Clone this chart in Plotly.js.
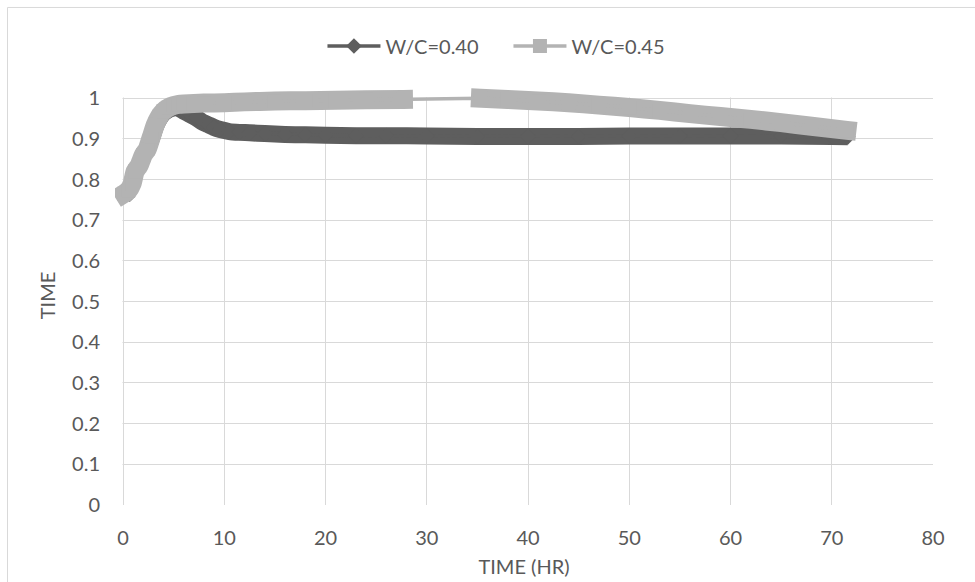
<!DOCTYPE html>
<html><head><meta charset="utf-8">
<script src="https://cdn.plot.ly/plotly-3.0.1.min.js"></script>
<style>
html,body{margin:0;padding:0;overflow:hidden;background:#fff}
#chart{width:975px;height:582px}
.scatterlayer .traceband45 path.js-line{stroke-linecap:square}
.scatterlayer path.js-line{stroke-linejoin:round}
</style></head><body><div id="chart"></div>
<script>
// ---- data ----
const seriesNames = ['W/C=0.40', 'W/C=0.45'];

const hours40 = [0.1, 0.5, 0.9, 1.2, 1.6, 2.0, 2.4, 2.8, 3.2, 3.6, 4.0, 4.5, 5.0, 5.5, 6.0, 6.6, 7.2, 7.8, 8.4, 9.0, 9.6, 10.5, 11.5, 12.5, 14, 16, 18, 20, 23, 26, 30, 35, 40, 45, 50, 55, 60, 65, 70, 71.6];
const wc40 =   [0.76, 0.77, 0.79, 0.82, 0.835, 0.86, 0.875, 0.90, 0.93, 0.95, 0.963, 0.972, 0.976, 0.975, 0.968, 0.96, 0.952, 0.942, 0.935, 0.928, 0.923, 0.918, 0.916, 0.915, 0.913, 0.911, 0.910, 0.909, 0.908, 0.908, 0.907, 0.906, 0.906, 0.906, 0.907, 0.907, 0.907, 0.907, 0.906, 0.905];

// W/C=0.45 was recorded in two stretches (no readings between ~28 h and ~35 h)
const hours45a = [0.1, 0.5, 0.9, 1.2, 1.6, 2.0, 2.4, 2.8, 3.2, 3.6, 4.0, 4.5, 5.0, 5.5, 6.0, 7.0, 8.0, 10, 12, 15, 18, 21, 24, 27.7];
const wc45a =    [0.765, 0.772, 0.79, 0.82, 0.835, 0.86, 0.875, 0.905, 0.935, 0.955, 0.968, 0.977, 0.982, 0.985, 0.986, 0.987, 0.988, 0.989, 0.991, 0.993, 0.994, 0.995, 0.996, 0.997];
const hours45b = [35.3, 38, 41, 44, 47, 50, 53, 56, 59, 62, 65, 68, 71.5];
const wc45b =    [1.0, 0.997, 0.993, 0.989, 0.983, 0.977, 0.97, 0.962, 0.955, 0.948, 0.94, 0.931, 0.921];

const xTickVals = [0, 10, 20, 30, 40, 50, 60, 70, 80];
const yTickVals = [0, 0.1, 0.2, 0.3, 0.4, 0.5, 0.6, 0.7, 0.8, 0.9, 1];
const yTickText = ['0', '0.1', '0.2', '0.3', '0.4', '0.5', '0.6', '0.7', '0.8', '0.9', '1'];

// ---- styling ----
const dark = '#5e5e5e';
const light = '#b3b3b3';
const txt = '#595959';
const grid = '#d9d9d9';
const font = 'Lato, "Noto Sans", sans-serif';
const fs = 20;

const traces = [
  { // dense reading band, W/C=0.40
    x: hours40, y: wc40, type: 'scatter', mode: 'lines',
    line: {color: dark, width: 17, shape: 'spline', smoothing: 0.6}, showlegend: false, hoverinfo: 'skip', uid: 'band40'
  },
  {
    x: hours40, y: wc40, type: 'scatter', mode: 'lines+markers', name: seriesNames[0],
    line: {color: dark, width: 3.5},
    marker: {symbol: 'diamond', size: 12, color: dark, line: {width: 0}},
    cliponaxis: false, uid: 'main40'
  },
  { // dense reading band, W/C=0.45 (broken where readings are missing)
    x: hours45a.concat([null], hours45b), y: wc45a.concat([null], wc45b),
    type: 'scatter', mode: 'lines', connectgaps: false,
    line: {color: light, width: 19, shape: 'spline', smoothing: 0.6}, showlegend: false, hoverinfo: 'skip', uid: 'band45'
  },
  {
    x: hours45a.concat(hours45b), y: wc45a.concat(wc45b), type: 'scatter', mode: 'lines+markers',
    name: seriesNames[1],
    line: {color: light, width: 3.5},
    marker: {symbol: 'square', size: 14, color: light, line: {width: 0}},
    cliponaxis: false, uid: 'main45'
  }
];

const layout = {
  width: 975, height: 582,
  margin: {l: 115, r: 42, t: 86, b: 77},
  paper_bgcolor: '#fff', plot_bgcolor: '#fff',
  font: {family: font, size: fs, color: txt},
  showlegend: true,
  legend: {orientation: 'h', x: 0.481, xanchor: 'center', y: 1.0955, yanchor: 'middle',
           itemwidth: 53, entrywidth: 118,
           font: {family: font, size: fs, color: txt}, bgcolor: 'rgba(0,0,0,0)'},
  xaxis: {
    range: [-0.79, 80], tickvals: xTickVals, ticks: '', showgrid: true, gridcolor: grid, gridwidth: 1,
    zeroline: false, showline: false, ticklabelstandoff: 19,
    tickfont: {family: font, size: fs, color: txt},
    title: {text: 'TIME (HR)', font: {family: font, size: fs, color: txt}, standoff: 11}
  },
  yaxis: {
    range: [0, 1.03], tickvals: yTickVals, ticktext: yTickText, ticks: '', showgrid: true, gridcolor: grid, gridwidth: 1,
    zeroline: false, showline: false, ticklabelstandoff: 14,
    tickfont: {family: font, size: fs, color: txt},
    title: {text: 'TIME', font: {family: font, size: fs, color: txt}, standoff: 11}
  },
  shapes: [
    // white covers so the grid starts at x=0 and stops at y=1 (the extra room is only for the thick bands)
    {type: 'rect', xref: 'x', yref: 'y', x0: -0.79, x1: -0.05, y0: -0.02, y1: 1.03,
     fillcolor: '#fff', line: {width: 0}, layer: 'between'},
    {type: 'rect', xref: 'x', yref: 'y', x0: -0.79, x1: 80, y0: 1.0015, y1: 1.03,
     fillcolor: '#fff', line: {width: 0}, layer: 'between'},
    // chart-area border
    {type: 'rect', xref: 'paper', yref: 'paper', x0: -0.1314, x1: 2, y0: -1, y1: 1.1874,
     fillcolor: 'rgba(0,0,0,0)', line: {color: grid, width: 1}, layer: 'above'}
  ]
};

Plotly.newPlot('chart', traces, layout, {displayModeBar: false, staticPlot: true});
</script></body></html>
